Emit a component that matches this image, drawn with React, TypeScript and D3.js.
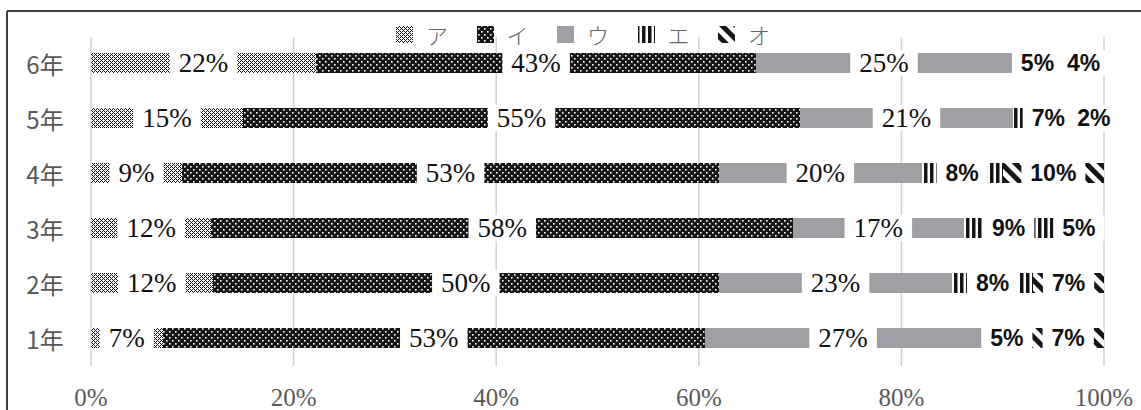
import React from "react";
import * as d3 from "d3";

const categories = ["6年", "5年", "4年", "3年", "2年", "1年"];
const seriesNames = ["ア", "イ", "ウ", "エ", "オ"];
const valuesA = [22, 15, 9, 12, 12, 7];
const valuesI = [43, 55, 53, 58, 50, 53];
const valuesU = [25, 21, 20, 17, 23, 27];
const valuesE = [5, 7, 8, 9, 8, 5];
const valuesO = [4, 2, 10, 5, 7, 7];
const xTicks = [0, 20, 40, 60, 80, 100];

const W = 1141;
const H = 410;
const fills = ["url(#pA)", "url(#pI)", "#a0a0a4", "url(#pE)", "url(#pO)"];
const boldSeries = [false, false, false, true, true];

const SERIF = "'Liberation Serif', 'Times New Roman', serif";
const SANS = "'Liberation Sans', Arial, sans-serif";
const CJK = "'Noto Sans CJK JP', 'Noto Sans', sans-serif";

let ctx: CanvasRenderingContext2D | null = null;
function measure(text: string, font: string): number {
  if (!ctx) {
    const c = document.createElement("canvas");
    ctx = c.getContext("2d");
  }
  if (!ctx) return text.length * 12;
  ctx.font = font;
  return ctx.measureText(text).width;
}

export default function App() {
  const rows = categories.map((c, i) => ({
    cat: c,
    ア: valuesA[i],
    イ: valuesI[i],
    ウ: valuesU[i],
    エ: valuesE[i],
    オ: valuesO[i],
  }));
  const stack = d3.stack<any>().keys(seriesNames).offset(d3.stackOffsetExpand);
  const layers = stack(rows);

  const x = d3.scaleLinear().domain([0, 1]).range([91, 1104]);
  const y = d3
    .scaleBand<string>()
    .domain(categories)
    .range([35.5, 365.5])
    .paddingInner(0.636)
    .paddingOuter(0.318);
  const bw = y.bandwidth();

  const pctFmt = (v: number) => `${v}%`;

  const labels: any[] = [];
  layers.forEach((layer, si) => {
    layer.forEach((d, ri) => {
      const raw = (rows[ri] as any)[seriesNames[si]] as number;
      const cx = x((d[0] + d[1]) / 2);
      const cy = (y(categories[ri]) as number) + bw / 2;
      const text = pctFmt(raw);
      const bold = boldSeries[si];
      const fontSize = bold ? 23 : 27;
      const font = `${bold ? "bold " : ""}${fontSize}px ${bold ? SANS : SERIF}`;
      const tw = measure(text, font);
      labels.push({ key: `${si}-${ri}`, cx, cy, text, bold, fontSize, tw });
    });
  });

  const diamondPix: [number, number][] = [
    [1, 0],
    [0, 1],
    [2, 1],
    [3, 2],
    [2, 3],
    [0, 3],
  ];

  return (
    <svg
      width={W}
      height={H}
      style={{ position: "absolute", left: 0, top: 0, background: "#fff" }}
    >
      <defs>
        <pattern id="pA" width={4} height={4} patternUnits="userSpaceOnUse">
          <rect width={4} height={4} fill="#fff" />
          {diamondPix.map(([px, py], i) => (
            <rect key={i} x={px} y={py} width={1} height={1} fill="#111" />
          ))}
        </pattern>
        <pattern id="pI" width={6} height={6} patternUnits="userSpaceOnUse">
          <rect width={6} height={6} fill="#161616" />
          <rect x={1} y={1} width={1.6} height={1.6} fill="#fff" />
          <rect x={4} y={4} width={1.6} height={1.6} fill="#fff" />
        </pattern>
        <pattern id="pE" width={6} height={6} patternUnits="userSpaceOnUse">
          <rect width={6} height={6} fill="#fff" />
          <rect x={0} y={0} width={3.5} height={6} fill="#161616" />
        </pattern>
        <pattern
          id="pO"
          width={10}
          height={10}
          patternUnits="userSpaceOnUse"
          patternTransform="rotate(-45)"
        >
          <rect width={10} height={10} fill="#fff" />
          <rect x={0} y={0} width={5} height={10} fill="#161616" />
        </pattern>
      </defs>

      {/* frame */}
      <line x1={7} y1={11} x2={W} y2={11} stroke="#404040" strokeWidth={2} />
      <line x1={7} y1={11} x2={7} y2={H} stroke="#404040" strokeWidth={2} />

      {/* gridlines */}
      {xTicks.map((t) => (
        <line
          key={t}
          x1={x(t / 100)}
          x2={x(t / 100)}
          y1={37}
          y2={366}
          stroke="#d0d0d0"
          strokeWidth={1.5}
        />
      ))}

      {/* bars */}
      {layers.map((layer, si) => (
        <g key={si} fill={fills[si]}>
          {layer.map((d, ri) => (
            <rect
              key={ri}
              x={x(d[0])}
              y={y(categories[ri])}
              width={x(d[1]) - x(d[0])}
              height={bw}
              shapeRendering="crispEdges"
            />
          ))}
        </g>
      ))}

      {/* data labels */}
      {labels.map((l) => (
        <g key={l.key}>
          <rect
            x={l.cx - l.tw / 2 - 9}
            y={l.cy - 13}
            width={l.tw + 18}
            height={26}
            fill="#fff"
          />
          <text
            x={l.cx}
            y={l.cy}
            textAnchor="middle"
            dominantBaseline="central"
            fontFamily={l.bold ? SANS : SERIF}
            fontWeight={l.bold ? "bold" : "normal"}
            fontSize={l.fontSize}
            fill="#111"
          >
            {l.text}
          </text>
        </g>
      ))}

      {/* category labels */}
      {categories.map((c) => (
        <text
          key={c}
          x={45}
          y={(y(c) as number) + bw / 2}
          textAnchor="middle"
          dominantBaseline="central"
          fontFamily={CJK}
          fontSize={24}
          fill="#595959"
        >
          {c}
        </text>
      ))}

      {/* x tick labels */}
      {xTicks.map((t) => (
        <text
          key={t}
          x={x(t / 100)}
          y={397}
          textAnchor="middle"
          dominantBaseline="central"
          fontFamily={SERIF}
          fontSize={25}
          fill="#595959"
        >
          {pctFmt(t)}
        </text>
      ))}

      {/* legend */}
      {seriesNames.map((s, i) => {
        const lx = 396 + i * 80.5;
        return (
          <g key={s}>
            <rect x={lx} y={26} width={17} height={17} fill={fills[i]} shapeRendering="crispEdges" />
            <text
              x={lx + 30}
              y={34}
              dominantBaseline="central"
              fontFamily={CJK}
              fontWeight={300}
              fontSize={22}
              fill="#666"
            >
              {s}
            </text>
          </g>
        );
      })}
    </svg>
  );
}
